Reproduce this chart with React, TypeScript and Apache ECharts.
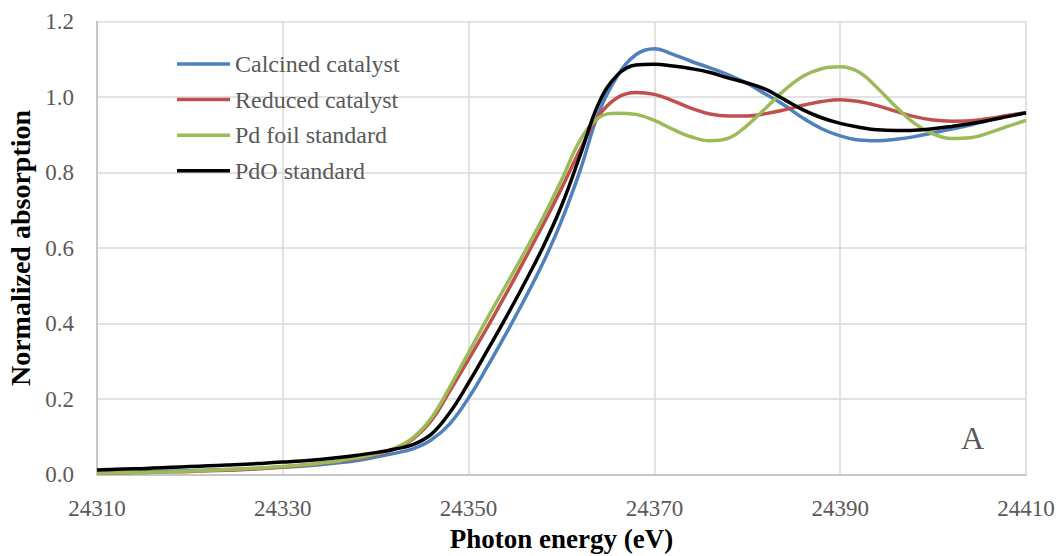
import React, { useEffect, useRef } from 'react';
import * as echarts from 'echarts';

// Photon energy (eV), every 2 eV
const energies = [
  24310, 24312, 24314, 24316, 24318, 24320, 24322, 24324, 24326, 24328,
  24330, 24332, 24334, 24336, 24338, 24340, 24342, 24344, 24346, 24348,
  24350, 24352, 24354, 24356, 24358, 24360, 24362, 24364, 24366, 24368,
  24370, 24372, 24374, 24376, 24378, 24380, 24382, 24384, 24386, 24388,
  24390, 24392, 24394, 24396, 24398, 24400, 24402, 24404, 24406, 24408,
  24410,
];

const calcined = [
  0.004, 0.005, 0.006, 0.008, 0.009, 0.010, 0.012, 0.013, 0.015, 0.017,
  0.019, 0.022, 0.026, 0.031, 0.037, 0.046, 0.056, 0.068, 0.092, 0.135,
  0.203, 0.285, 0.372, 0.463, 0.56, 0.672, 0.805, 0.958, 1.055, 1.112,
  1.128, 1.113, 1.094, 1.077, 1.058, 1.036, 1.007, 0.978, 0.944, 0.916,
  0.897, 0.886, 0.884, 0.888, 0.895, 0.905, 0.915, 0.926, 0.938, 0.95,
  0.958,
];

const reduced = [
  0.003, 0.004, 0.005, 0.006, 0.007, 0.008, 0.010, 0.011, 0.013, 0.016,
  0.020, 0.024, 0.029, 0.035, 0.042, 0.052, 0.067, 0.094, 0.143, 0.222,
  0.305, 0.389, 0.477, 0.568, 0.661, 0.758, 0.86, 0.95, 0.998, 1.012,
  1.007, 0.99, 0.97, 0.955, 0.95, 0.95, 0.956, 0.966, 0.978, 0.988,
  0.993, 0.988, 0.977, 0.962, 0.948, 0.939, 0.936, 0.937, 0.943, 0.951,
  0.958,
];

const pdFoil = [
  0.003, 0.004, 0.005, 0.006, 0.007, 0.009, 0.011, 0.013, 0.015, 0.018,
  0.021, 0.025, 0.030, 0.036, 0.044, 0.054, 0.069, 0.097, 0.15, 0.233,
  0.323, 0.413, 0.5, 0.588, 0.68, 0.78, 0.885, 0.945, 0.957, 0.954,
  0.938, 0.914, 0.894, 0.884, 0.891, 0.925, 0.971, 1.018, 1.055, 1.075,
  1.08, 1.066, 1.024, 0.974, 0.93, 0.902, 0.89, 0.892, 0.905, 0.922,
  0.938,
];

const pdoStd = [
  0.012, 0.014, 0.015, 0.017, 0.019, 0.021, 0.023, 0.025, 0.027, 0.030,
  0.033, 0.036, 0.040, 0.045, 0.051, 0.058, 0.067, 0.079, 0.107, 0.165,
  0.243, 0.328, 0.415, 0.506, 0.602, 0.712, 0.845, 0.983, 1.058, 1.085,
  1.087, 1.082, 1.075, 1.065, 1.05, 1.037, 1.02, 0.993, 0.966, 0.945,
  0.93, 0.92, 0.913, 0.911, 0.912, 0.916, 0.922, 0.929, 0.938, 0.948,
  0.958,
];

const seriesNames = ['Calcined catalyst', 'Reduced catalyst', 'Pd foil standard', 'PdO standard'];
const seriesColors = ['#4F81BD', '#C0504D', '#9BBB59', '#000000'];
const seriesValues = [calcined, reduced, pdFoil, pdoStd];

const xTicks = [24310, 24330, 24350, 24370, 24390, 24410];
const xTitle = 'Photon energy (eV)';
const yTitle = 'Normalized absorption';
const panelLabel = 'A';

const FONT = "'Liberation Serif', 'Times New Roman', serif";

export default function App() {
  const ref = useRef<HTMLDivElement>(null);

  useEffect(() => {
    if (!ref.current) return;
    const chart = echarts.init(ref.current, undefined, { renderer: 'svg' });
    chart.setOption({
      animation: false,
      backgroundColor: '#ffffff',
      grid: {
        left: 97,
        right: 33,
        top: 21.5,
        bottom: 81.5,
        containLabel: false,
        outerBoundsMode: 'none',
      },
      legend: {
        orient: 'vertical',
        left: 177,
        top: 52,
        padding: 0,
        icon: 'rect',
        itemWidth: 53,
        itemHeight: 3.5,
        itemGap: 11.6,
        data: seriesNames,
        textStyle: { color: '#595959', fontFamily: FONT, fontSize: 24 },
      },
      xAxis: {
        type: 'value',
        min: 24310,
        max: 24410,
        name: xTitle,
        nameLocation: 'middle',
        nameGap: 51,
        nameTextStyle: {
          color: '#000',
          fontFamily: FONT,
          fontSize: 27,
          fontWeight: 'bold',
          lineHeight: 27,
        },
        axisLine: { show: true, lineStyle: { color: '#BFBFBF', width: 1.5 } },
        axisTick: { show: false, customValues: xTicks },
        axisLabel: {
          customValues: xTicks,
          color: '#595959',
          fontFamily: FONT,
          fontSize: 23,
          margin: 22,
          formatter: (v: number) => String(v),
        },
        splitLine: { show: true, lineStyle: { color: '#D9D9D9', width: 1.5 } },
      },
      yAxis: {
        type: 'value',
        min: 0,
        max: 1.2,
        interval: 0.2,
        name: yTitle,
        nameLocation: 'middle',
        nameGap: 62,
        nameRotate: 90,
        nameTextStyle: { color: '#000', fontFamily: FONT, fontSize: 28, fontWeight: 'bold' },
        axisLine: { show: true, lineStyle: { color: '#BFBFBF', width: 1.5 } },
        axisTick: { show: false },
        axisLabel: {
          color: '#595959',
          fontFamily: FONT,
          fontSize: 23,
          margin: 23,
          formatter: (v: number) => v.toFixed(1),
        },
        splitLine: { show: true, lineStyle: { color: '#D9D9D9', width: 1.5 } },
      },
      graphic: [
        {
          type: 'text',
          left: 961,
          top: 422,
          style: { text: panelLabel, fill: '#595959', font: `32px ${FONT}` },
        },
      ],
      series: seriesNames.map((name, k) => ({
        name,
        type: 'line',
        smooth: 0.4,
        symbol: 'none',
        data: energies.map((e, i) => [e, seriesValues[k][i]]),
        lineStyle: { color: seriesColors[k], width: 3.5 },
        itemStyle: { color: seriesColors[k] },
      })),
    });
    return () => chart.dispose();
  }, []);

  return (
    <div
      ref={ref}
      style={{ position: 'fixed', left: 0, top: 0, width: 1059, height: 556, background: '#fff' }}
    />
  );
}
